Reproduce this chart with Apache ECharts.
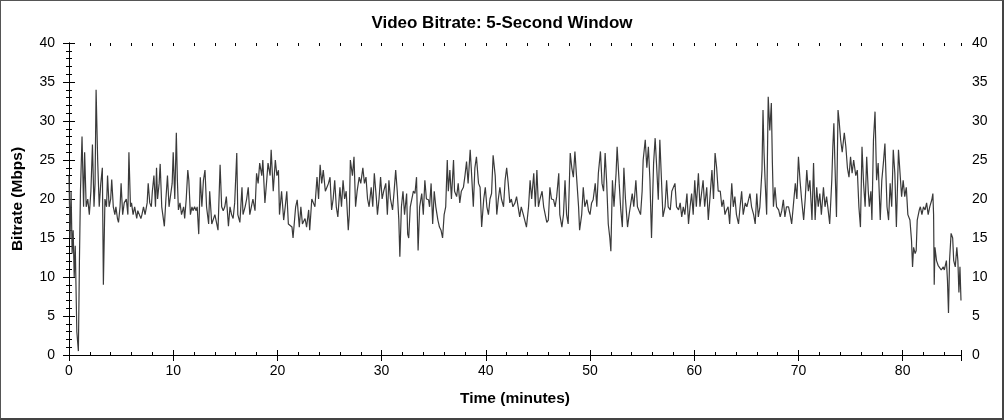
<!DOCTYPE html>
<html>
<head>
<meta charset="utf-8">
<script src="https://cdn.jsdelivr.net/npm/echarts@6/dist/echarts.min.js"></script>
<style>
html,body{margin:0;padding:0;background:#fff;}
#frame{position:absolute;left:0;top:0;width:1004px;height:420px;box-sizing:border-box;border-left:1px solid #555;border-top:1px solid #555;border-right:2px solid #444;border-bottom:2px solid #444;}
#c{position:absolute;left:0;top:0;width:1004px;height:420px;}
</style>
</head>
<body>
<div id="c"></div>
<div id="frame"></div>
<script>
const titleText = 'Video Bitrate: 5-Second Window';
const xName = 'Time (minutes)';
const yName = 'Bitrate (Mbps)';

const times = [
0,0.1,0.2,0.3,0.4,0.5,0.6,0.75,0.9,1.0,
1.1,1.25,1.4,1.5,1.65,1.8,1.95,2.1,2.25,2.4,
2.5,2.6,2.75,2.9,3.05,3.2,3.3,3.45,3.6,3.7,
3.85,4.0,4.1,4.25,4.4,4.5,4.65,4.75,4.9,5.0,
5.15,5.3,5.5,5.65,5.75,5.9,6.0,6.15,6.3,6.5,
6.6,6.75,6.9,7.0,7.15,7.3,7.5,7.6,7.75,7.9,
8.0,8.15,8.3,8.4,8.5,8.65,8.75,8.9,9.0,9.15,
9.3,9.45,9.6,9.75,9.9,10.0,10.15,10.3,10.4,10.5,
10.65,10.8,11.0,11.1,11.25,11.4,11.5,11.65,11.8,11.9,
12.05,12.2,12.3,12.45,12.6,12.75,12.9,13.05,13.2,13.4,
13.5,13.7,13.85,14.0,14.15,14.3,14.5,14.65,14.8,14.95,
15.1,15.3,15.45,15.6,15.75,15.9,16.1,16.2,16.4,16.6,
16.7,16.9,17.05,17.2,17.35,17.5,17.65,17.85,18.0,18.15,
18.3,18.5,18.6,18.8,18.95,19.1,19.3,19.4,19.6,19.8,
19.95,20.1,20.2,20.4,20.6,20.75,20.9,21.05,21.2,21.4,21.5,
21.6,21.75,21.9,22.1,22.25,22.4,22.65,22.8,23.0,23.1,
23.3,23.45,23.6,23.8,23.95,24.1,24.25,24.4,24.6,24.75,
24.9,25.05,25.2,25.35,25.5,25.65,25.8,26.0,26.15,26.3,
26.45,26.6,26.8,26.9,27.0,27.2,27.35,27.5,27.65,27.85,
28.0,28.2,28.35,28.5,28.65,28.8,29.0,29.15,29.3,29.5,
29.6,29.75,29.9,30.05,30.2,30.4,30.55,30.7,30.85,31.05,
31.2,31.35,31.5,31.65,31.75,31.9,32.05,32.2,32.4,32.5,
32.6,32.75,32.9,33.05,33.2,33.35,33.5,33.65,33.85,34.0,
34.15,34.3,34.5,34.6,34.75,34.9,35.05,35.2,35.4,35.55,
35.7,35.85,36.0,36.15,36.3,36.4,36.55,36.7,36.9,37.0,
37.2,37.35,37.5,37.65,37.85,38.0,38.15,38.3,38.5,38.6,
38.8,38.95,39.1,39.3,39.45,39.6,39.8,39.95,40.1,40.25,
40.4,40.55,40.7,40.9,41.05,41.2,41.35,41.5,41.7,41.85,
42.0,42.15,42.3,42.45,42.6,42.8,42.95,43.1,43.25,43.4,43.6,
43.75,43.9,44.1,44.25,44.4,44.6,44.75,44.9,45.05,45.2,
45.4,45.55,45.7,45.85,46.0,46.15,46.3,46.5,46.65,46.8,
47.0,47.1,47.3,47.45,47.6,47.75,47.9,48.1,48.25,48.4,
48.55,48.7,48.9,49.0,49.2,49.35,49.5,49.7,49.85,50.0,
50.15,50.3,50.5,50.65,50.8,51.0,51.15,51.3,51.45,51.6,
51.75,51.9,52.0,52.15,52.3,52.5,52.6,52.8,52.95,53.1,
53.25,53.4,53.6,53.75,53.9,54.05,54.2,54.4,54.55,54.7,
54.85,55.0,55.1,55.3,55.45,55.6,55.75,55.9,56.1,56.25,
56.4,56.55,56.7,56.9,57.0,57.2,57.35,57.5,57.7,57.85,
58.0,58.15,58.3,58.5,58.65,58.8,58.95,59.1,59.3,59.45,
59.6,59.75,59.9,60.05,60.2,60.4,60.55,60.7,60.85,61.0,
61.2,61.35,61.5,61.7,61.85,62.0,62.15,62.3,62.5,62.65,
62.8,62.95,63.1,63.25,63.4,63.6,63.75,63.9,64.05,64.25,
64.4,64.55,64.7,64.9,65.05,65.2,65.35,65.5,65.7,
65.85,66.0,66.15,66.3,66.5,66.6,66.7,66.8,66.95,67.1,
67.25,67.4,67.5,67.6,67.75,67.9,68.1,68.25,68.4,68.55,
68.7,68.85,69.05,69.2,69.35,69.5,69.7,69.85,70.0,70.15,
70.3,70.5,70.65,70.8,70.95,71.1,71.3,71.45,71.6,71.75,
71.9,72.05,72.2,72.4,72.55,72.7,72.85,73.0,73.2,73.3,
73.4,73.5,73.65,73.8,73.9,74.05,74.2,74.4,74.55,74.7,
74.85,75.0,75.15,75.3,75.5,75.65,75.8,75.95,76.1,76.25,
76.4,76.55,76.7,
76.8,76.95,77.05,77.2,77.35,77.5,77.65,77.85,78.0,78.15,
78.3,78.5,78.65,78.8,78.95,79.1,79.25,79.4,79.6,79.75,
79.9,80.05,80.2,80.35,80.5,80.7,80.85,80.95,81.05,81.2,
81.3,81.4,81.6,81.7,81.85,82.0,82.15,82.3,82.45,82.6,
82.8,82.9,82.97,83.03,83.1,83.25,83.4,83.55,83.7,83.9,
84.0,84.2,84.3,84.4,84.5,84.65,84.8,84.9,85.05,85.2,
85.3,85.4,85.5,85.6
];

const mbps = [
23,15,21,13,16,10,14,3,0.5,12,
21,28,19,26,19,20,18,21,27,19,
22,34,25,19,22,24,9,20,19,23,
19,20,22.5,19,18,19,17.5,17,19,22,
18,19.5,20,18,26,19,19.5,18,19,17.5,
18.5,18,17.5,18,19,18,19.5,22,19.5,19,
21,23,19,24,20,22,24.5,19,18,16.5,
20,23,19,19,22,26,20,28.5,22.4,18.6,
19.5,18,19,17.5,20,23.7,22.4,18,19,18.5,
19,18.5,19,15.5,22.8,19,22.4,23.7,19,16.8,
21,16.8,17,18,17,16,24.4,19,18.5,19,
20.3,16.5,19,18,17.5,19.5,25.9,18,17,21.5,
18,19,20,21.5,18,19,20,18.5,23.3,22,
24.6,23,25,19.5,22,24.6,23,26.3,21,25,
23,23.7,18,21,17.3,19,21,16.8,17,16.4,15,
15,19,19.9,16.4,19,16.8,17.5,16.4,18.6,16,
20,19.5,19,22.8,20,24.4,22,23.7,21,21,
22,22.8,18.6,20,22.4,19,17.7,21.5,19,22.4,
20,21,16,18,25,23,25.4,19,21,22.8,
22,24,22,22.8,20,19,21.5,19,23.3,20,
18,20,22.8,20,21,22,18,22.4,20,18.6,
21,23.7,21,17.3,12.6,19,21,18,20.7,15.5,
15,19,19,21,20.7,22.8,13.4,19,20.7,18,
22.4,20,19.9,19,22,16.8,21,19,17.3,16.4,
16,15,18,19,25,21,23.7,20,25,21,
20.3,22,19.5,21,21.5,23,24.8,22,26.3,24,
19,24,25.4,22,21.5,16.4,20,21.5,19,18,
20,20.7,25.6,23,18,20,21.5,20,19,22.4,
24,22,19.5,20,19,19.5,20.3,19,17.7,19,18,
18,16.4,19,22.4,20,23.3,19,23.7,19,20,
21,19,19,17,17.3,21.5,20,19.9,19,20.3,
23.3,18,16.4,18,22.4,18,16.8,25.9,24,22.8,
26.1,23,19,16,18,21.5,19,19.9,18.5,18,
19.5,19.9,22,19,23.3,26.1,22,21,25.9,22,
16.8,15,13.3,22.4,19,23.3,26.7,22,18.6,16.4,
24,20,16.4,18,18,20.7,19,22.4,19,19,
18,21,25,27.6,24,26.7,22.4,15,24.6,27.8,
24,19.9,27.6,21,17.7,19,22.4,19,18.6,21,
21,22,19,18.6,19.5,17.7,19,18,20.7,16.8,
19,20.7,18,22.4,19,23.3,19,19,22.4,19,
21.5,17.3,20,23.7,20,25.9,24,21,21,19,
19.9,18,18.6,19,16.8,22,19,20.3,18,16.8,
19,21,18,19.5,19,19,20.7,19,18,
16.8,20.7,17.7,19,23.7,31.4,25.9,22.4,18,33.1,
28.8,32.3,24.6,19,21.5,19,18.6,17.7,18.5,19.9,
17.7,19,19,18,16.8,19,22,20,25.4,22.4,
20,17.3,20,23.7,21,22.4,17.3,24.6,17.3,21.5,
19,20.7,18,21.5,19,20.3,18.6,16.8,22.4,26.7,
29.7,24.6,17.7,31.4,30.1,27.6,26,28.5,26.7,24,
22.8,25.4,23.3,25,23,23.7,19,16.4,26.7,22,
19,25.4,21,
19,21,17.3,27.6,31.2,22.4,24.6,17.3,22.4,24.6,
27.1,19,17.3,22,19,26.3,23.3,16.4,26.3,23.3,
20.3,22.4,20.3,21.5,18,17.3,14.7,11.3,13.8,13,
13.4,17.3,18.6,19,18,19,18.6,19.5,18,19,
19.9,20.7,18,9,13.8,12.1,11.5,11.3,10.9,11.3,
10.9,12.1,9.6,5.4,12.1,15.6,15,12.1,11.3,13.8,
12.1,8,11.3,7
];

const xMin = 0, xMax = 85.6, xMajor = 10, xMinor = 2;
const yMin = 0, yMax = 40, yMajor = 5;

const font = "'Liberation Sans', Arial, sans-serif";
const n = Math.min(times.length, mbps.length);
const data = [];
for (let i = 0; i < n; i++) data.push([times[i], mbps[i]]);

const lineStyle = {color: '#000', width: 1};
const labelStyle = {color: '#000', fontSize: 14, fontFamily: font};

function xAx(opts) {
  return Object.assign({
    type: 'value', min: xMin, max: xMax, interval: xMajor,
    axisLine: {show: false, lineStyle: lineStyle},
    axisTick: {show: true, length: 5, inside: false, lineStyle: lineStyle},
    minorTick: {show: false},
    axisLabel: {show: false},
    splitLine: {show: false}
  }, opts);
}
function yAx(opts) {
  return Object.assign({
    type: 'value', min: yMin, max: yMax, interval: yMajor,
    axisLine: {show: false, lineStyle: lineStyle},
    axisTick: {show: true, length: 6, inside: false, lineStyle: lineStyle},
    minorTick: {show: true, splitNumber: 5, length: 3, lineStyle: lineStyle},
    axisLabel: {show: false},
    splitLine: {show: false}
  }, opts);
}

const nameStyle = {fontSize: 15.5, fontWeight: 'bold', color: '#000', fontFamily: font};

const chart = echarts.init(document.getElementById('c'), null, {renderer: 'canvas'});
chart.setOption({
  animation: false,
  backgroundColor: '#fff',
  title: {
    text: titleText, left: 'center', top: 10,
    textStyle: {fontSize: 17, fontWeight: 'bold', color: '#000', fontFamily: font}
  },
  grid: {left: 69, right: 43, top: 43, bottom: 65, containLabel: false},
  xAxis: [
    xAx({position: 'bottom', axisLine: {show: true, lineStyle: lineStyle},
      axisTick: {show: true, length: 5, inside: false, lineStyle: lineStyle},
      axisLabel: Object.assign({show: true, margin: 9, showMaxLabel: false}, labelStyle),
      name: xName, nameLocation: 'middle', nameGap: 36, nameTextStyle: nameStyle}),
    xAx({position: 'bottom', axisTick: {show: true, length: 5, inside: true, lineStyle: lineStyle}}),
    xAx({position: 'bottom', interval: xMinor, axisTick: {show: true, length: 3, inside: true, lineStyle: lineStyle}}),
    xAx({position: 'top', axisLine: {show: true, lineStyle: lineStyle},
      axisTick: {show: true, length: 6, inside: true, lineStyle: lineStyle}}),
    xAx({position: 'top', interval: xMinor, axisTick: {show: true, length: 3, inside: true, lineStyle: lineStyle}})
  ],
  yAxis: [
    yAx({position: 'left', axisLine: {show: true, lineStyle: lineStyle},
      axisLabel: Object.assign({show: true, margin: 14}, labelStyle),
      name: yName, nameLocation: 'middle', nameGap: 43, nameRotate: 90, nameTextStyle: nameStyle}),
    yAx({position: 'left', axisTick: {show: true, length: 6, inside: true, lineStyle: lineStyle},
      minorTick: {show: true, splitNumber: 5, length: 3, lineStyle: lineStyle}}),
    yAx({position: 'right', axisLine: {show: true, lineStyle: lineStyle},
      axisLabel: Object.assign({show: true, margin: 11}, labelStyle)}),
    yAx({position: 'right', axisTick: {show: true, length: 6, inside: true, lineStyle: lineStyle},
      minorTick: {show: true, splitNumber: 5, length: 3, lineStyle: lineStyle}})
  ],
  series: [{
    type: 'line', xAxisIndex: 0, yAxisIndex: 0, data: data,
    showSymbol: false, symbol: 'none', smooth: false,
    lineStyle: {color: '#3a3a3a', width: 1.2},
    silent: true
  }]
});
</script>
</body>
</html>
